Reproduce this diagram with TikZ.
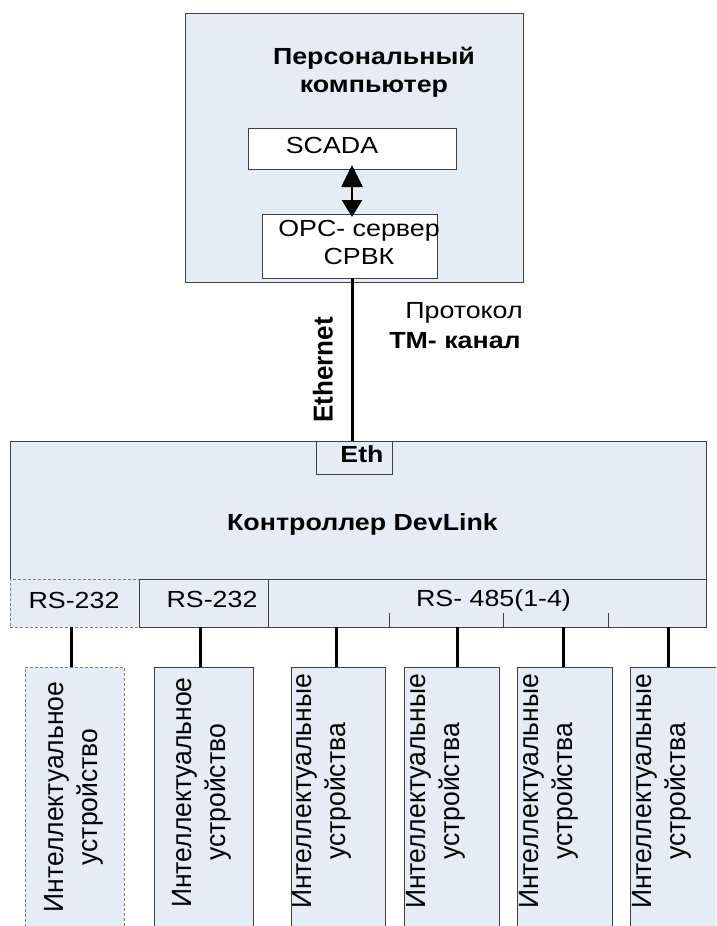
\documentclass[tikz,border=0pt]{standalone}
\usepackage{fontspec}
\setmainfont{Liberation Sans}
\usepackage{graphicx}
\usetikzlibrary{arrows.meta}
\definecolor{fillb}{RGB}{230,236,246}
\definecolor{edgec}{RGB}{64,64,64}
\newcommand{\hsx}{1.15}
\newcommand{\htxt}[1]{\scalebox{\hsx}[1]{\begin{tabular}{@{}c@{}}#1\end{tabular}}}
\newcommand{\vtxt}[1]{\scalebox{1.05}[1]{\rotatebox{90}{\begin{tabular}{@{}c@{}}#1\end{tabular}}}}
\tikzset{
  box/.style={draw=edgec, fill=fillb, line width=1pt, inner sep=0pt, outer sep=0pt},
  wbox/.style={draw=edgec, fill=white, line width=1pt, inner sep=0pt, outer sep=0pt},
  dbox/.style={draw=gray, fill=fillb, line width=0.9pt, dash pattern=on 3pt off 2pt, inner sep=0pt, outer sep=0pt},
  link/.style={line width=3pt, black},
  tick/.style={line width=0.8pt, edgec},
  lbl/.style={inner sep=0pt, font=\fontsize{23.3}{28}\selectfont},
  blbl/.style={inner sep=0pt, font=\fontsize{23.3}{28}\selectfont\bfseries},
  vlbl/.style={inner sep=0pt, font=\fontsize{26.5}{32}\selectfont},
  vblbl/.style={inner sep=0pt, font=\fontsize{26}{32}\selectfont\bfseries},
}
\begin{document}
\begin{tikzpicture}[x=1pt,y=-1pt]
\useasboundingbox (0,0) rectangle (716,926);
\clip (0,0) rectangle (716,926);
% PC
\node[box, minimum width=338pt, minimum height=269pt] (pc) at (354,147.5) {};
\node[blbl] (pctitle) at (374,73) {\htxt{Персональный\\компьютер}};
\node[wbox, minimum width=208pt, minimum height=41pt] (scada) at (352,148.5) {};
\node[lbl] (scadat) at (332,148) {\htxt{SCADA}};
\node[wbox, minimum width=175pt, minimum height=64pt] (opc) at (349.5,246) {};
\node[lbl] (opct) at (359,245) {\htxt{OPC- сервер\\СРВК}};
\draw[line width=2.7pt, {Triangle[length=22pt,width=21pt]}-{Triangle[length=17pt,width=20pt]}] ([yshift=4pt]scada.south) -- ([yshift=-3pt]scada.south |- opc.north);
% controller
\node[box, minimum width=696pt, minimum height=138pt] (ctrl) at (358,510) {};
\node[blbl] (ctrlt) at (362.5,525) {\htxt{Контроллер DevLink}};
\node[box, minimum width=76pt, minimum height=33pt] (eth) at (354,457.5) {};
\node[blbl] (etht) at (362,457) {\htxt{Eth}};
\draw[link] ([xshift=2.5pt]opc.south) -- ([xshift=2.5pt]opc.south |- eth.north);
\node[vblbl] (ethernet) at (326,370) {\vtxt{Ethernet}};
\node[lbl] (prot) at (464,312.5) {\htxt{Протокол}};
\node[blbl] (tm) at (455,343) {\htxt{ТМ- канал}};
% ports
\node[dbox, minimum width=129pt, minimum height=48pt] (p1) at (74.5,603) {};
\node[lbl] (p1t) at (74,602.5) {\htxt{RS-232}};
\node[box, minimum width=129pt, minimum height=48pt] (p2) at (203.5,603) {};
\node[lbl] (p2t) at (212,602) {\htxt{RS-232}};
\node[box, minimum width=438pt, minimum height=48pt] (p3) at (487,603) {};
\node[lbl] (p3t) at (493.5,601) {\htxt{RS- 485(1-4)}};
\draw[tick] (389,613) -- (389,627);
\draw[tick] (503,613) -- (503,627);
\draw[tick] (608,613) -- (608,627);
% devices
\node[dbox, minimum width=99pt, minimum height=280pt] (d1) at (74.5,807) {};
\node[box, minimum width=99pt, minimum height=280pt] (d2) at (203.5,807) {};
\node[box, minimum width=94pt, minimum height=280pt] (d3) at (338,807) {};
\node[box, minimum width=95pt, minimum height=280pt] (d4) at (451.5,807) {};
\node[box, minimum width=95pt, minimum height=280pt] (d5) at (564.5,807) {};
\node[box, minimum width=95pt, minimum height=280pt] (d6) at (677.5,807) {};
\node[vlbl] (d1t) at (74,797) {\vtxt{Интеллектуальное\\устройство}};
\node[vlbl] (d2t) at (202,792.5) {\vtxt{Интеллектуальное\\устройство}};
\node[vlbl] (d3t) at (321.5,791.5) {\vtxt{Интеллектуальные\\устройства}};
\node[vlbl] (d4t) at (436,791.5) {\vtxt{Интеллектуальные\\устройства}};
\node[vlbl] (d5t) at (549,791.5) {\vtxt{Интеллектуальные\\устройства}};
\node[vlbl] (d6t) at (662,791.5) {\vtxt{Интеллектуальные\\устройства}};
\draw[link] ([xshift=-3.5pt]d1.north) -- ([xshift=-3.5pt]d1.north |- p1.south);
\draw[link] ([xshift=-3.5pt]d2.north) -- ([xshift=-3.5pt]d2.north |- p2.south);
\draw[link] ([xshift=-2pt]d3.north) -- ([xshift=-2pt]d3.north |- p3.south);
\draw[link] ([xshift=5.5pt]d4.north) -- ([xshift=5.5pt]d4.north |- p3.south);
\draw[link] ([xshift=-1.5pt]d5.north) -- ([xshift=-1.5pt]d5.north |- p3.south);
\draw[link] ([xshift=-9.5pt]d6.north) -- ([xshift=-9.5pt]d6.north |- p3.south);
\end{tikzpicture}
\end{document}
